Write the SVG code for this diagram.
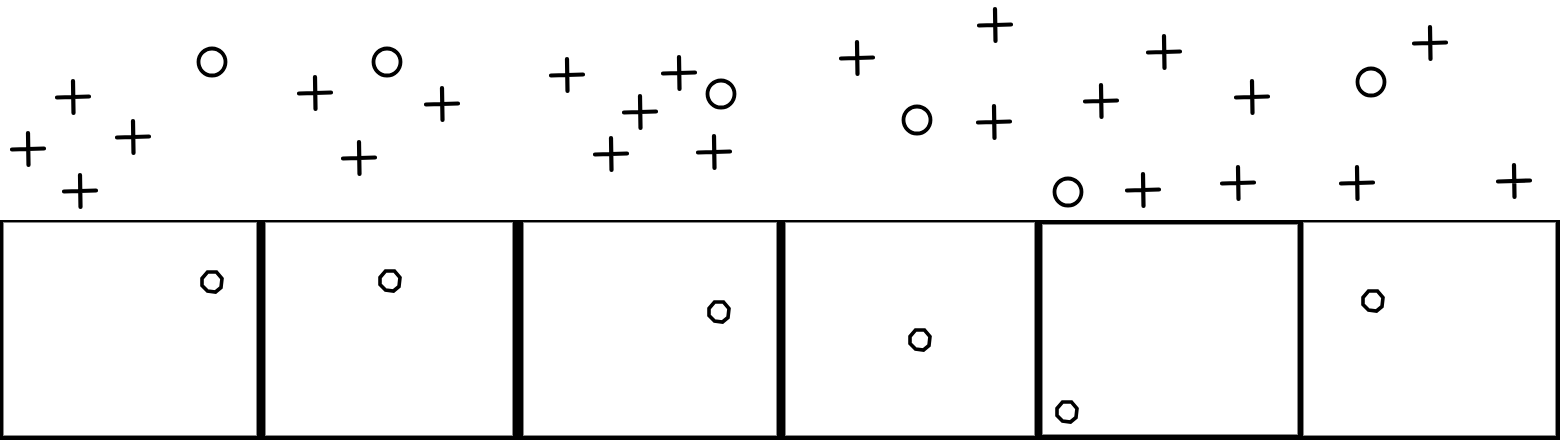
<svg xmlns="http://www.w3.org/2000/svg" xmlns:xlink="http://www.w3.org/1999/xlink" width="1560" height="440" viewBox="0 0 1560 440">
  <style>
    .panel { fill: #ffffff; stroke: #8a8a8a; stroke-width: 1; }
    .mark { fill: none; stroke: #000000; stroke-width: 4.2; stroke-linecap: round; stroke-linejoin: round; }
    .ring { fill: none; stroke: #000000; stroke-width: 3.8; }
    .oct { fill: none; stroke: #000000; stroke-width: 3.6; stroke-linejoin: miter; }
  </style>
  <defs>
    <path id="cross" class="mark" d="M-16,0.5 L16,-0.5 M0,-16 L0.5,16"/>
    <circle id="ring" class="ring" r="13.5"/>
    <polygon id="oct" class="oct" points="-4.5,-10 4.5,-10 10,-3.5 9,5.5 3.5,10 -4.5,9 -10,3.5 -10,-3.5"/>
  </defs>
  <rect width="1560" height="440" fill="#ffffff"/>
  <g id="strip">
    <rect x="0" y="220" width="1560" height="220" fill="#000000"/>
    <g id="panel1"><rect class="panel" x="3.5" y="222.5" width="253" height="213"/><use xlink:href="#oct" x="212" y="282"/></g>
    <g id="panel2"><rect class="panel" x="265.5" y="222.5" width="247" height="213"/><use xlink:href="#oct" x="390" y="281"/></g>
    <g id="panel3"><rect class="panel" x="523.5" y="222.5" width="253" height="213"/><use xlink:href="#oct" x="719" y="312"/></g>
    <g id="panel4"><rect class="panel" x="785.5" y="222.5" width="249" height="213"/><use xlink:href="#oct" x="920" y="340"/></g>
    <g id="panel5"><rect class="panel" x="1042.5" y="224.5" width="255" height="210"/><use xlink:href="#oct" x="1067" y="412"/></g>
    <g id="panel6"><rect class="panel" x="1303.5" y="222.5" width="252" height="213"/><use xlink:href="#oct" x="1373" y="301"/></g>
  </g>
  <g id="rings">
    <use xlink:href="#ring" x="212" y="62"/>
    <use xlink:href="#ring" x="387" y="62"/>
    <use xlink:href="#ring" x="721" y="94"/>
    <use xlink:href="#ring" x="917" y="120"/>
    <use xlink:href="#ring" x="1068" y="192"/>
    <use xlink:href="#ring" x="1371" y="82"/>
  </g>
  <g id="crosses">
    <use xlink:href="#cross" x="73" y="97"/>
    <use xlink:href="#cross" x="28" y="149"/>
    <use xlink:href="#cross" x="133" y="137"/>
    <use xlink:href="#cross" x="80" y="191"/>
    <use xlink:href="#cross" x="315" y="93"/>
    <use xlink:href="#cross" x="442" y="104"/>
    <use xlink:href="#cross" x="359" y="158"/>
    <use xlink:href="#cross" x="567" y="75"/>
    <use xlink:href="#cross" x="679" y="73"/>
    <use xlink:href="#cross" x="640" y="112"/>
    <use xlink:href="#cross" x="611" y="154"/>
    <use xlink:href="#cross" x="714" y="152"/>
    <use xlink:href="#cross" x="857" y="58"/>
    <use xlink:href="#cross" x="995" y="25"/>
    <use xlink:href="#cross" x="994" y="122"/>
    <use xlink:href="#cross" x="1164" y="52"/>
    <use xlink:href="#cross" x="1101" y="101"/>
    <use xlink:href="#cross" x="1252" y="97"/>
    <use xlink:href="#cross" x="1430" y="43"/>
    <use xlink:href="#cross" x="1143" y="190"/>
    <use xlink:href="#cross" x="1238" y="183"/>
    <use xlink:href="#cross" x="1357" y="183"/>
    <use xlink:href="#cross" x="1514" y="181"/>
  </g>
</svg>
